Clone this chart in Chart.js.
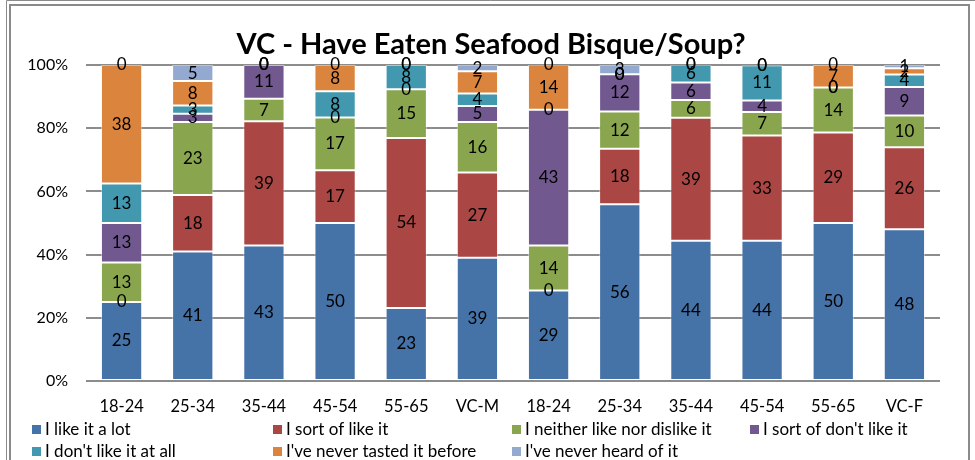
<!DOCTYPE html>
<html>
<head>
<meta charset="utf-8">
<script src="https://cdn.jsdelivr.net/npm/chart.js@4/dist/chart.umd.min.js"></script>
<style>
  html, body { margin: 0; padding: 0; background: #fff; }
  #wrap { position: relative; width: 975px; height: 460px; }
</style>
</head>
<body>
<div id="wrap"><canvas id="bisqueChart" width="975" height="460"></canvas></div>
<script>
const categories = ['18-24', '25-34', '35-44', '45-54', '55-65', 'VC-M', '18-24', '25-34', '35-44', '45-54', '55-65', 'VC-F'];
const likeALot    = [25, 41.0, 42.9, 50, 23.1, 39, 28.6, 55.9, 44.4, 44.4, 50, 48];
const sortOfLike  = [0, 17.9, 39.3, 16.7, 53.8, 27, 0, 17.6, 38.9, 33.3, 28.6, 26];
const neither     = [12.5, 23.1, 7.1, 16.7, 15.4, 16, 14.3, 11.8, 5.6, 7.4, 14.3, 10];
const sortOfDont  = [12.5, 2.6, 10.7, 0, 0, 5, 42.9, 11.8, 5.6, 3.7, 0, 9];
const dontLike    = [12.5, 2.6, 0, 8.3, 7.7, 4, 0, 0, 5.6, 11.1, 0, 4];
const neverTasted = [37.5, 7.7, 0, 8.3, 0, 7, 14.3, 0, 0, 0, 7.1, 2];
const neverHeard  = [0, 5.1, 0, 0, 0, 2, 0, 2.9, 0, 0, 0, 1];
const yTicks = [0, 20, 40, 60, 80, 100];

const FONT = 'Lato, "Open Sans", sans-serif';

const series = [
  { label: 'I like it a lot', data: likeALot, color: '#4572A7' },
  { label: 'I sort of like it', data: sortOfLike, color: '#AA4643' },
  { label: 'I neither like nor dislike it', data: neither, color: '#89A54E' },
  { label: "I sort of don't like it", data: sortOfDont, color: '#71588F' },
  { label: "I don't like it at all", data: dontLike, color: '#4198AF' },
  { label: "I've never tasted it before", data: neverTasted, color: '#DB843D' },
  { label: "I've never heard of it", data: neverHeard, color: '#93A9CF' }
];

// frame, title, legend
const decor = {
  id: 'decor',
  beforeDraw(chart) {
    const c = chart.ctx;
    c.save();
    c.fillStyle = '#fff';
    c.fillRect(0, 0, chart.width, chart.height);
    c.strokeStyle = '#8a8a8a';
    c.lineWidth = 1;
    c.beginPath();
    c.moveTo(6.5, 470); c.lineTo(6.5, 0.5); c.lineTo(975, 0.5);
    c.stroke();
    c.lineWidth = 2;
    c.beginPath();
    c.moveTo(10, 470); c.lineTo(10, 5); c.lineTo(969, 5); c.lineTo(969, 470);
    c.stroke();
    c.restore();
  },
  afterDraw(chart) {
    const c = chart.ctx;
    c.save();
    c.fillStyle = '#000';
    c.font = 'bold 29px ' + FONT;
    c.textAlign = 'center';
    c.textBaseline = 'middle';
    c.fillText('VC - Have Eaten Seafood Bisque/Soup?', 491, 45);

    const cols = [32, 273, 512, 750];
    const rows = [430, 452];
    c.font = '17px ' + FONT;
    c.textAlign = 'left';
    series.forEach((s, i) => {
      const x = cols[i % 4];
      const y = rows[Math.floor(i / 4)];
      c.fillStyle = s.color;
      c.fillRect(x, y - 5, 9, 9);
      c.fillStyle = '#000';
      c.fillText(s.label, x + 13, y);
    });
    c.restore();
  }
};

const segLabels = {
  id: 'segLabels',
  afterDatasetsDraw(chart) {
    const c = chart.ctx;
    c.save();
    c.font = '17px ' + FONT;
    c.fillStyle = '#000';
    c.textAlign = 'center';
    c.textBaseline = 'middle';
    chart.data.datasets.forEach((ds, di) => {
      chart.getDatasetMeta(di).data.forEach((bar, i) => {
        const p = bar.getProps(['x', 'y', 'base'], true);
        c.fillText(String(Math.round(ds.data[i])), p.x, (p.y + p.base) / 2);
      });
    });
    c.restore();
  }
};

const ctx = document.getElementById('bisqueChart').getContext('2d');
new Chart(ctx, {
  type: 'bar',
  data: {
    labels: categories,
    datasets: series.map(s => ({
      label: s.label,
      data: s.data,
      backgroundColor: s.color,
      borderColor: 'rgba(255,255,255,0.45)',
      borderWidth: 1,
      borderSkipped: false,
      barPercentage: 0.58,
      categoryPercentage: 1
    }))
  },
  options: {
    responsive: false,
    animation: false,
    layout: { padding: { left: 8, right: 35, top: 65, bottom: 39 } },
    plugins: { legend: { display: false }, title: { display: false }, tooltip: { enabled: false } },
    scales: {
      x: {
        stacked: true,
        grid: { display: false, drawTicks: false },
        border: { display: false },
        ticks: { color: '#000', font: { family: FONT, size: 16.5 }, padding: 16, maxRotation: 0, autoSkip: false },
        afterFit(scale) { scale.height = 40; }
      },
      y: {
        stacked: true,
        min: 0,
        max: 100,
        afterBuildTicks(scale) { scale.ticks = yTicks.map(v => ({ value: v })); },
        grid: { color: '#8c8c8c', lineWidth: 2, drawTicks: false },
        border: { display: false },
        ticks: { color: '#000', font: { family: FONT, size: 16 }, padding: 18, callback: v => v + '%' },
        afterFit(scale) { scale.width = 78; }
      }
    }
  },
  plugins: [decor, segLabels]
});
</script>
</body>
</html>
